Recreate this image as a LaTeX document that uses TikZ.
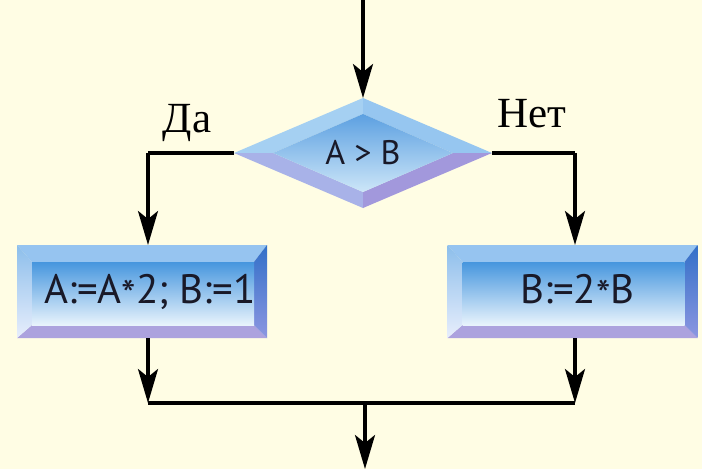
\documentclass[tikz,border=0pt]{standalone}
\usepackage{fontspec}
\setmainfont{Liberation Serif}
\newfontfamily\boxfont{PT Sans}
\usetikzlibrary{arrows.meta,calc,shapes.geometric}
\pgfdeclarelayer{back}
\pgfdeclarelayer{bevel}
\pgfsetlayers{back,bevel,main}
\definecolor{bgc}{RGB}{255,253,228}
\definecolor{btop}{RGB}{150,196,240}
\definecolor{bleftT}{RGB}{140,190,235}
\definecolor{bleftB}{RGB}{232,238,252}
\definecolor{brightT}{RGB}{50,112,200}
\definecolor{brightB}{RGB}{140,150,225}
\definecolor{bbot}{RGB}{172,162,222}
\definecolor{binT}{RGB}{70,150,222}
\definecolor{binB}{RGB}{232,243,252}
\definecolor{dtl}{RGB}{165,208,242}
\definecolor{dtr}{RGB}{150,198,240}
\definecolor{dbl}{RGB}{168,178,232}
\definecolor{dbr}{RGB}{162,152,220}
\definecolor{dinT}{RGB}{92,160,225}
\definecolor{dinB}{RGB}{205,230,248}
\definecolor{txt}{RGB}{25,25,40}
\newcommand\mybevelbox[1]{%
  \fill[btop] (#1.north west) -- (#1.north east) -- ($(#1.north east)+(-13,17)$) -- ($(#1.north west)+(15,17)$) -- cycle;
  \fill[bbot] (#1.south west) -- (#1.south east) -- ($(#1.south east)+(-13,-13)$) -- ($(#1.south west)+(15,-13)$) -- cycle;
  \shade[top color=bleftT, bottom color=bleftB] (#1.north west) -- ($(#1.north west)+(15,17)$) -- ($(#1.south west)+(15,-13)$) -- (#1.south west) -- cycle;
  \shade[top color=brightT, bottom color=brightB] (#1.north east) -- ($(#1.north east)+(-13,17)$) -- ($(#1.south east)+(-13,-13)$) -- (#1.south east) -- cycle;
  \shade[top color=binT, bottom color=binB] ($(#1.north west)+(15,17)$) rectangle ($(#1.south east)+(-13,-13)$);
}
\begin{document}
\begin{tikzpicture}[x=1pt,y=-1pt,
  line/.style={line width=3.2pt,black},
  arr/.style={line, -{Stealth[length=34pt,width=20pt,inset=8pt]}},
  boxst/.style={minimum width=250pt,minimum height=93pt,inner sep=0pt,outer sep=0pt,text=txt,font=\boxfont\fontsize{41}{44}\selectfont},
  lab/.style={font=\fontsize{43}{48}\selectfont,text=black,inner sep=0pt}]
\begin{pgfonlayer}{back}
\fill[bgc] (0,0) rectangle (702,469);
\end{pgfonlayer}
\useasboundingbox (0,0) rectangle (702,469);

\node[shape=diamond,minimum width=258pt,minimum height=110pt,inner sep=0pt,outer sep=0pt,text=txt,font=\boxfont\fontsize{34}{38}\selectfont] (D) at (363,153) {A > B};
\node[boxst] (L) at (142,291.5) {\hspace*{16pt}A:=A\raisebox{-0.3ex}{*}2; B:=1};
\node[boxst] (R) at (572.5,291.5) {\hspace*{10pt}B:=2\raisebox{-0.3ex}{*}B};

\begin{pgfonlayer}{bevel}
\mybevelbox{L}
\mybevelbox{R}
\coordinate (iN) at ($(D.center)+(0,-39)$);
\coordinate (iS) at ($(D.center)+(0,39)$);
\coordinate (iW) at ($(D.center)+(-90,0)$);
\coordinate (iE) at ($(D.center)+(90,0)$);
\fill[dtl] (D.west) -- (D.north) -- (iN) -- (iW) -- cycle;
\fill[dtr] (D.north) -- (D.east) -- (iE) -- (iN) -- cycle;
\fill[dbl] (D.west) -- (D.south) -- (iS) -- (iW) -- cycle;
\fill[dbr] (D.south) -- (D.east) -- (iE) -- (iS) -- cycle;
\shade[top color=dinT, bottom color=dinB] (iN) -- (iE) -- (iS) -- (iW) -- cycle;
\end{pgfonlayer}

\node[lab] (da) at (187,123) {Да};
\node[lab] (net) at (532,114) {Нет};

\coordinate (top) at (D.north |- 0,0);
\coordinate (la) at (148,153);
\coordinate (ra) at (575,153);
\coordinate (lb) at (148,403);
\coordinate (rb) at (575,403);
\coordinate (mb) at (365,403);
\coordinate (endp) at (365,469);

\draw[arr] (top) -- (D.north);
\draw[line] (D.west) -- (la);
\draw[arr] (la) -- (la |- L.north);
\draw[line] (D.east) -- (ra);
\draw[arr] (ra) -- (ra |- R.north);
\draw[arr] (L.south -| lb) -- (lb);
\draw[arr] (R.south -| rb) -- (rb);
\draw[line] (lb) -- (rb);
\draw[arr] (mb) -- (endp);
\end{tikzpicture}
\end{document}
